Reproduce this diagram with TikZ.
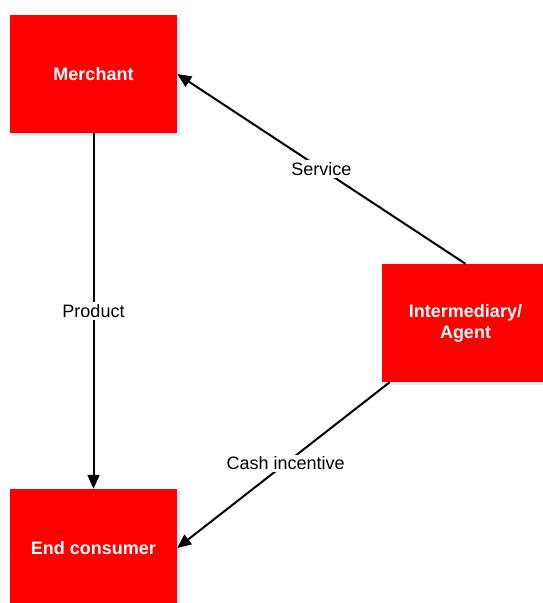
\documentclass[tikz,border=0pt]{standalone}
\usepackage{fontspec}
\setmainfont{Liberation Sans}
\usetikzlibrary{arrows.meta}
\definecolor{boxred}{RGB}{255,0,0}
\definecolor{boxshadow}{RGB}{222,232,246}
\begin{document}
\begin{tikzpicture}[x=1pt,y=-1pt,
  party/.style={fill=boxred, draw=none, minimum width=167pt, minimum height=118pt,
    inner sep=0pt, text=white, align=center,
    font=\fontsize{18}{21}\selectfont\bfseries},
  flow/.style={line width=2pt, -{Triangle[length=14pt,width=12pt]}},
  tag/.style={fill=white, inner sep=2pt, font=\fontsize{18}{21}\selectfont}]
\useasboundingbox (0,0) rectangle (542,603);
% soft shadows behind the boxes
\fill[boxshadow] (12,17) rectangle (180,136);
\fill[boxshadow] (384,266) rectangle (550,385);
\fill[boxshadow] (12,491) rectangle (180,610);
% parties
\node[party] (merchant) at (93.5,74) {Merchant};
\node[party] (agent) at (465.5,323) {Intermediary/\\Agent};
\node[party] (consumer) at (93.5,548) {End consumer};
% flows
\draw[flow] (merchant.south) -- node[tag] {Product} (consumer.north);
\draw[flow] (agent.north) -- node[tag] {Service} (merchant.east);
\draw[flow] (agent) -- node[tag, pos=0.49] {Cash incentive} (consumer.east);
\end{tikzpicture}
\end{document}
